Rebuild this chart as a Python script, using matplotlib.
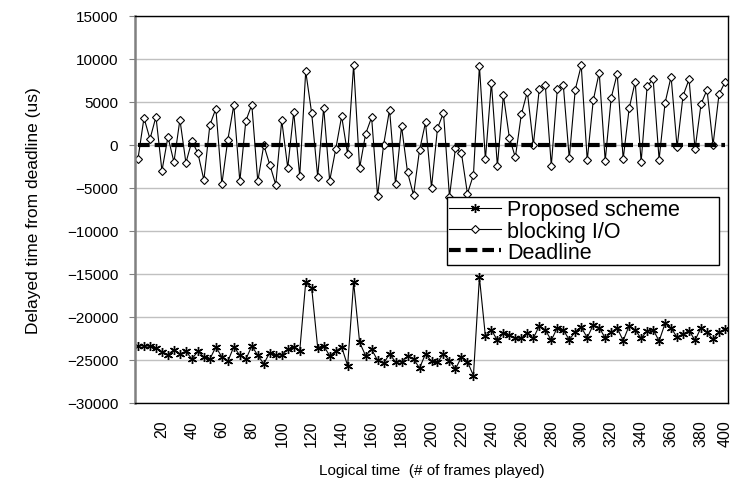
import numpy as np
import matplotlib.pyplot as plt

plt.rcParams['font.family'] = ['Liberation Sans', 'DejaVu Sans']

# delayed time from deadline (us), one value per sampled frame
proposed = [
    -23370, -23330, -23410, -23570, -24030, -24380, -23800, -24300, -23990, -24880,
    -23990, -24650, -24880, -23490, -24650, -25150, -23450, -24460, -24920, -23370,
    -24460, -25430, -24150, -24460, -24380, -23760, -23490, -23950, -15970, -16630,
    -23570, -23370, -24500, -23990, -23490, -25660, -15970, -22950, -24500, -23760,
    -25040, -25390, -24300, -25230, -25190, -24570, -24880, -25930, -24300, -25150,
    -25270, -24300, -25080, -26050, -24650, -25190, -26820, -15390, -22250, -21510,
    -22710, -21900, -22090, -22440, -22480, -21820, -22480, -21010, -21510, -22710,
    -21240, -21510, -22640, -21710, -21200, -22400, -20930, -21240, -22440, -21780,
    -21280, -22750, -21010, -21510, -22480, -21590, -21470, -22790, -20740, -21280,
    -22360, -21980, -21590, -22710, -21240, -21780, -22600, -21800, -21400,
]
blocking = [
    -1600, 3150, 700, 3280, -3000, 950, -1980, 2950, -2070, 470,
    -950, -4070, 2330, 4230, -4550, 620, 4650, -4240, 2790, 4690,
    -4240, 0, -2290, -4620, 2850, -2650, 3820, -3620, 8580, 3680,
    -3700, 4360, -4170, -520, 3350, -1080, 9320, -2670, 1280, 3220,
    -5930, 0, 4110, -4570, 2190, -3180, -5820, -600, 2620, -4960,
    1940, 3760, -6010, -350, -970, -5660, -3490, 9190, -1670, 7250,
    -2440, 5810, 850, -1430, 3570, 6200, 0, 6550, 6940, -2400,
    6470, 6990, -1540, 6440, 9250, -1800, 5180, 8430, -1840, 5490,
    8280, -1630, 4260, 7330, -1960, 6820, 7680, -1690, 4920, 7950,
    -270, 5740, 7640, -480, 4770, 6420, 0, 5910, 7300,
]
deadline = [0] * len(blocking)
frame_labels = list(range(20, 401, 20))

fig = plt.figure(figsize=(7.33, 4.89), dpi=100)
ax = fig.add_axes([135 / 733, 1 - 404 / 489, 593 / 733, 387 / 489])

x = np.arange(len(blocking))
ax.plot(x, proposed, color='black', lw=0.8, marker=(6, 2, 0), ms=6.5, mew=1.0,
        label='Proposed scheme')
ax.plot(x, blocking, color='black', lw=0.8, marker='D', ms=4.5,
        mfc='white', mec='black', mew=0.8, label='blocking I/O')
ax.plot(x, deadline, color='black', lw=3, dashes=(2.8, 1.2), label='Deadline')

ax.set_xlim(-0.5, len(blocking) - 0.5)
ax.set_ylim(-30000, 15000)
ax.set_yticks(range(-30000, 15001, 5000))
tick_pos = [min(f // 4 - 1, len(blocking) - 1) for f in frame_labels]
ax.set_xticks(tick_pos)
ax.set_xticklabels([str(f) for f in frame_labels], rotation=90, fontsize=11.5)
ax.tick_params(axis='x', length=0, pad=12)
ax.tick_params(axis='y', length=4, color='#808080', pad=8, labelsize=11)

ax.grid(axis='y', color='#c0c0c0', lw=1)
ax.set_axisbelow(True)
for side in ['top', 'right', 'bottom']:
    ax.spines[side].set_color('black')
    ax.spines[side].set_linewidth(1)
ax.spines['left'].set_color('#808080')
ax.spines['left'].set_linewidth(1.8)

ax.set_ylabel('Delayed time from deadline (us)', fontsize=12.5, labelpad=19)
ax.set_xlabel('Logical time  (# of frames played)', fontsize=11, labelpad=12)

leg = ax.legend(loc='upper left', bbox_to_anchor=(0.5256, 0.3566, 0.4587, 0.1757),
                mode='expand', borderaxespad=0,
                fontsize=15.5, handlelength=2.4, handletextpad=0.3, labelspacing=0.02,
                fancybox=False, edgecolor='black', framealpha=1, borderpad=0.1)
leg.get_frame().set_linewidth(1.0)

fig.savefig('out.png', dpi=100)
